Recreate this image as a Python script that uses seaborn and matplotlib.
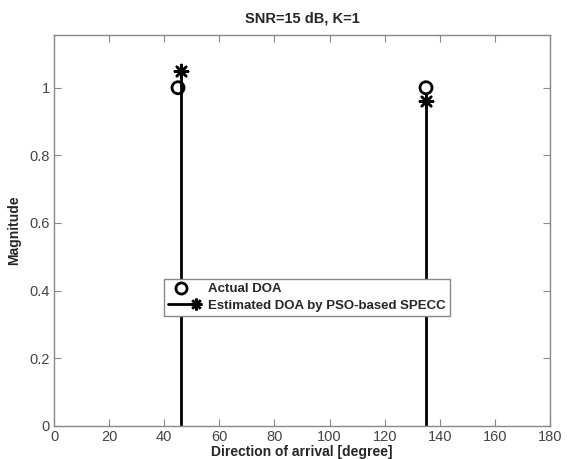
import matplotlib
matplotlib.use("Agg")
import matplotlib.pyplot as plt
import seaborn as sns
import pandas as pd
from matplotlib.lines import Line2D
from matplotlib.legend_handler import HandlerBase

actual_doa = [45, 135]
actual_mag = [1.0, 1.0]
est_doa = [46, 135]
est_mag = [1.05, 0.96]
xticks = [0, 20, 40, 60, 80, 100, 120, 140, 160, 180]
yticks = [0, 0.2, 0.4, 0.6, 0.8, 1]

sns.set_style("white")
plt.rcParams['font.family'] = ['Liberation Sans', 'DejaVu Sans']

fig = plt.figure(figsize=(5.68, 4.59), dpi=100)
ax = fig.add_axes([0.0951, 0.0725, 0.8732, 0.8512])

df_act = pd.DataFrame({"doa": actual_doa, "mag": actual_mag})
df_est = pd.DataFrame({"doa": est_doa, "mag": est_mag})

ax.vlines(df_est["doa"], 0, df_est["mag"], color="black", linewidth=2, zorder=2)
sns.scatterplot(data=df_est, x="doa", y="mag", marker=(8, 2, 0), s=90,
                color="black", linewidth=1.8, ax=ax, zorder=3, legend=False)
sns.scatterplot(data=df_act, x="doa", y="mag", marker="o", s=75,
                facecolor="none", edgecolor="black", linewidth=2, ax=ax, zorder=3, legend=False)

ax.set_xlim(0, 180)
ax.set_ylim(0, 1.156)
ax.set_xticks(xticks)
ax.set_xticklabels([str(v) for v in xticks])
ax.set_yticks(yticks)
ax.set_yticklabels(["0", "0.2", "0.4", "0.6", "0.8", "1"])
ax.tick_params(direction="in", length=5, color="#888888", labelcolor="#444444",
               labelsize=10.5, top=True, right=True, bottom=True, left=True, pad=3)
for s in ax.spines.values():
    s.set_color("#888888")
    s.set_linewidth(1.0)

ax.set_xlabel("Direction of arrival [degree]", fontsize=10, fontweight="bold", labelpad=1)
ax.set_ylabel("Magnitude", fontsize=10, fontweight="bold", labelpad=6)
ax.set_title("SNR=15 dB, K=1", fontsize=10.5, fontweight="bold", pad=9)


class StemHandler(HandlerBase):
    def create_artists(self, legend, orig_handle, xdescent, ydescent, width, height, fontsize, trans):
        y = height / 2 - ydescent
        x0, x1 = -xdescent, width - xdescent - 2
        line = Line2D([x0, x1], [y, y], color="black", linewidth=2, transform=trans)
        mk = Line2D([x1], [y], linestyle="none", marker=(8, 2, 0), markersize=8.5,
                    markeredgewidth=1.8, color="black", transform=trans)
        return [line, mk]


class CircleHandler(HandlerBase):
    def create_artists(self, legend, orig_handle, xdescent, ydescent, width, height, fontsize, trans):
        y = height / 2 - ydescent
        xc = (width - xdescent) * 0.42 - xdescent * 0.58
        mk = Line2D([xc], [y], linestyle="none", marker="o", markersize=8,
                    markerfacecolor="none", markeredgecolor="black", markeredgewidth=2,
                    transform=trans)
        return [mk]


h_act = Line2D([], [])
h_est = Line2D([], [])
leg = ax.legend([h_act, h_est], ["Actual DOA", "Estimated DOA by PSO-based SPECC"],
                handler_map={h_act: CircleHandler(), h_est: StemHandler()},
                loc="center", bbox_to_anchor=(0.510, 0.328), fancybox=False,
                framealpha=1, edgecolor="#888888",
                handlelength=2.3, handletextpad=0.7, borderpad=0.3, labelspacing=0.35,
                prop={"weight": "bold", "size": 9.5})
leg.get_frame().set_linewidth(1.0)

fig.savefig("out.png", dpi=100)
